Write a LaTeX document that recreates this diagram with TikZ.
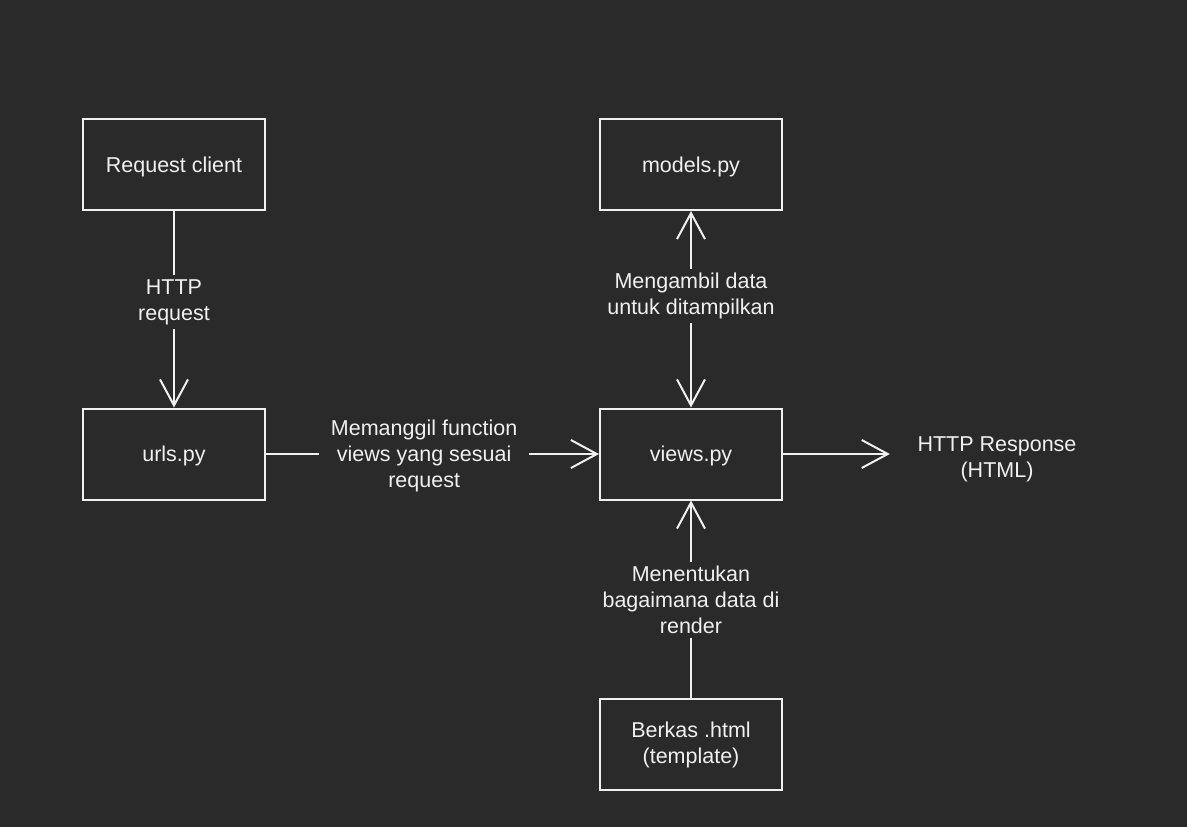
\documentclass[tikz,border=0pt]{standalone}
\usepackage{fontspec}
\setmainfont{Liberation Sans}
\usetikzlibrary{arrows.meta}
\definecolor{myBack}{RGB}{42, 42, 42}
\definecolor{myLine}{RGB}{240, 240, 240}

\begin{document}
\begin{tikzpicture}[x = 1pt, y = -1pt,   % 1px = 1pt, y nach unten
    every node/.style = {font = \fontsize{21.5}{26}\selectfont, text = myLine, align = center},
    spitze/.tip = {Straight Barb[length = 26pt, width = 28pt]},
    kasten/.style = {draw = myLine, line width = 2pt, minimum width = 182pt, minimum height = 91pt, inner sep = 0pt},
    einzeilig/.style = {kasten, text height = 16pt, text depth = 1pt},
    pfeil/.style = {draw = myLine, line width = 2pt, -spitze},
    doppelpfeil/.style = {draw = myLine, line width = 2pt, spitze-spitze},
    beschr/.style = {fill = myBack, inner xsep = 4pt, inner ysep = 4pt, yshift = -2.5pt}]
  % Hintergrund
  \useasboundingbox (0, 0) rectangle (1187, 827);
  \fill [myBack] (0, 0) rectangle (1187, 827);
  % links
  \node [einzeilig] (client) at (174, 164.5) {Request client};
  \node [einzeilig] (urls) at (174, 454) {urls.py};
  % mitte
  \node [einzeilig] (models) at (691, 164.5) {models.py};
  \node [einzeilig] (views) at (691, 454) {views.py};
  \node [kasten] (berkas) at (691, 744.5) {Berkas .html\\(template)};
  % rechts
  \node [inner sep = 0pt] (response) at (997, 459) {HTTP Response\\(HTML)};
  % Pfeile
  \draw [pfeil] (client) -- node [beschr, pos = 0.45] {HTTP\\request} (urls);
  \draw [pfeil] (urls) -- node [beschr, pos = 0.475, inner xsep = 12pt, yshift = 0.5pt] {Memanggil function\\views yang sesuai\\request} (views);
  \draw [doppelpfeil] (models) -- node [beschr, pos = 0.42] {Mengambil data\\untuk ditampilkan} (views);
  \draw [pfeil] (berkas) -- node [beschr, yshift = 2pt] {Menentukan\\bagaimana data di\\render} (views);
  \draw [pfeil, shorten > = 27.5pt] (views) -- (response.west |- views);
\end{tikzpicture}
\end{document}
